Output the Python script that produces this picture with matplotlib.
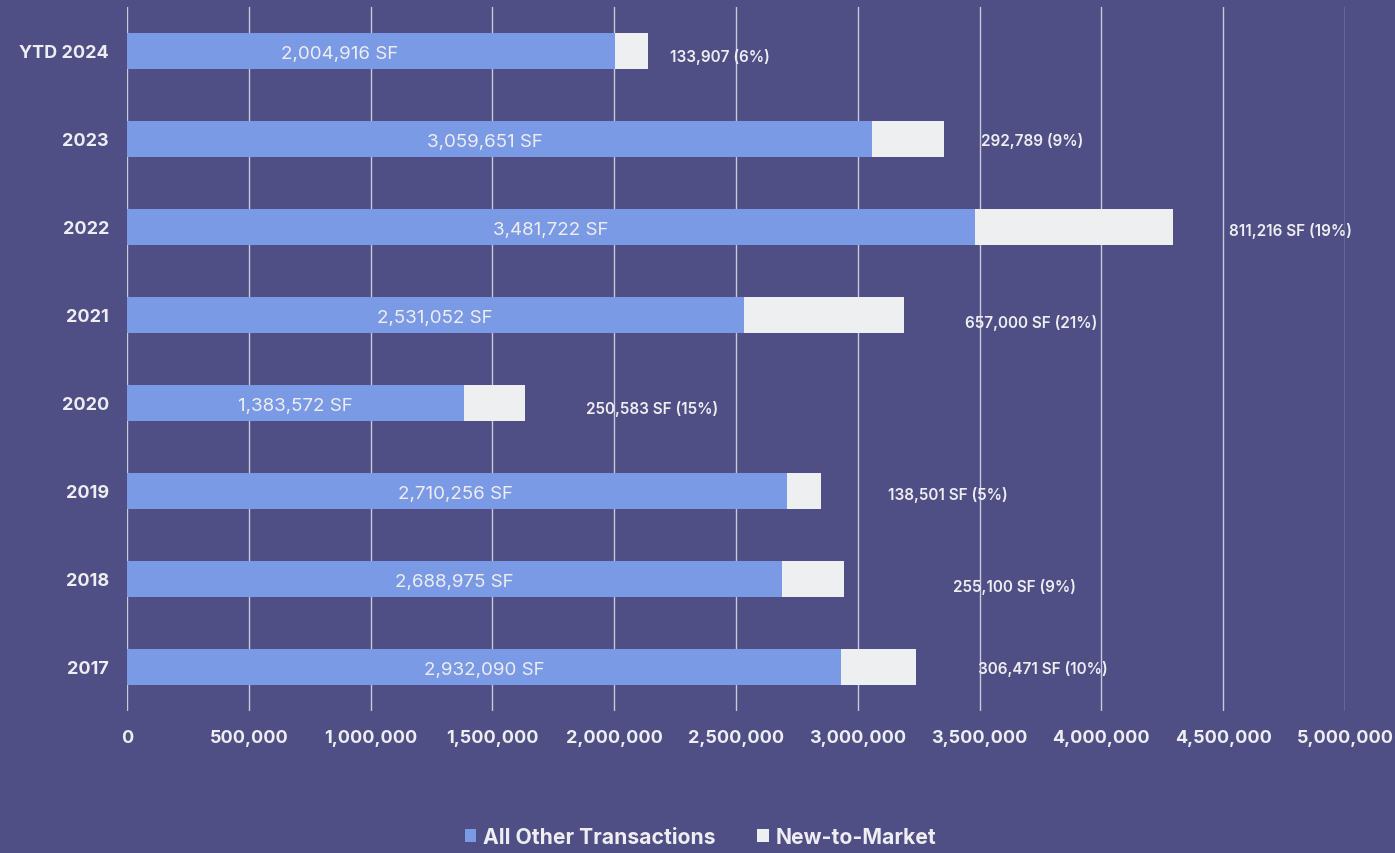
import matplotlib
matplotlib.use("Agg")
import matplotlib.pyplot as plt
from matplotlib.patches import Patch

# ---- data ----
categories = ["YTD 2024", "2023", "2022", "2021", "2020", "2019", "2018", "2017"]
all_other = [2004916, 3059651, 3481722, 2531052, 1383572, 2710256, 2688975, 2932090]
new_to_market = [133907, 292789, 811216, 657000, 250583, 138501, 255100, 306471]
new_labels = ["133,907 (6%)", "292,789 (9%)", "811,216 SF (19%)", "657,000 SF (21%)",
              "250,583 SF (15%)", "138,501 SF (5%)", "255,100 SF (9%)", "306,471 SF (10%)"]
x_ticks = [0, 500000, 1000000, 1500000, 2000000, 2500000, 3000000, 3500000, 4000000, 4500000, 5000000]

# ---- style ----
BG = "#4F4F86"
BLUE = "#7B9AE5"
LIGHT = "#EEEFF1"
TXT = "#EEEEF2"
GRID = "#C9C9DA"
plt.rcParams["font.family"] = ["Inter", "DejaVu Sans"]

# label offsets (pixels) – layout only
new_dx = [22, 37, 56, 61, 61, 67, 109, 62]
new_dy = [-5, -1, -3, -7, -5, -3, -7, -1]
in_dx = [-32, -15, 0, 0, 0, -2, 0, 0]

fig = plt.figure(figsize=(13.95, 8.54), dpi=100, facecolor=BG)
ax = fig.add_axes([127/1395, 1-712/854, (1345-127)/1395, (712-8)/854])
ax.set_facecolor(BG)

n = len(categories)
ypos = list(range(n - 1, -1, -1))
h = 0.4
ax.barh(ypos, all_other, height=h, color=BLUE, zorder=3)
ax.barh(ypos, new_to_market, left=all_other, height=h, color=LIGHT, zorder=3)

for i in range(n):
    y = ypos[i]
    ax.annotate(f"{all_other[i]:,} SF", xy=(all_other[i] / 2, y), xytext=(in_dx[i], -3),
                textcoords="offset pixels", ha="center", va="center",
                color=TXT, fontsize=13.5, fontweight="normal", zorder=4)
    end = all_other[i] + new_to_market[i]
    ax.annotate(new_labels[i], xy=(end, y), xytext=(new_dx[i], new_dy[i]),
                textcoords="offset pixels", ha="left", va="center",
                color=TXT, fontsize=11, fontweight="semibold", zorder=4)

ax.set_xlim(0, 5000000)
ax.set_ylim(-0.5, n - 0.5)
ax.set_xticks(x_ticks)
ax.set_xticklabels([f"{v:,}" for v in x_ticks])
ax.set_yticks(ypos)
ax.set_yticklabels(categories)
ax.tick_params(axis="both", length=0, colors=TXT, labelsize=13)
ax.tick_params(axis="x", pad=13)
ax.tick_params(axis="y", pad=13)
for lab in ax.get_xticklabels() + ax.get_yticklabels():
    lab.set_fontweight("bold")
for s in ax.spines.values():
    s.set_visible(False)
ax.grid(axis="x", color=GRID, linewidth=1.0, zorder=0)
ax.set_axisbelow(True)

handles = [Patch(facecolor=BLUE, label="All Other Transactions"),
           Patch(facecolor=LIGHT, label="New-to-Market")]
leg = fig.legend(handles=handles, loc="center", bbox_to_anchor=(0.502, 1-838/854), ncol=2,
                 frameon=False, handlelength=0.55, handleheight=0.55, handletextpad=0.3,
                 columnspacing=2.0, prop={"size": 15.2, "weight": "bold"})
for t in leg.get_texts():
    t.set_color(TXT)

fig.savefig("out.png", dpi=100, facecolor=BG)
